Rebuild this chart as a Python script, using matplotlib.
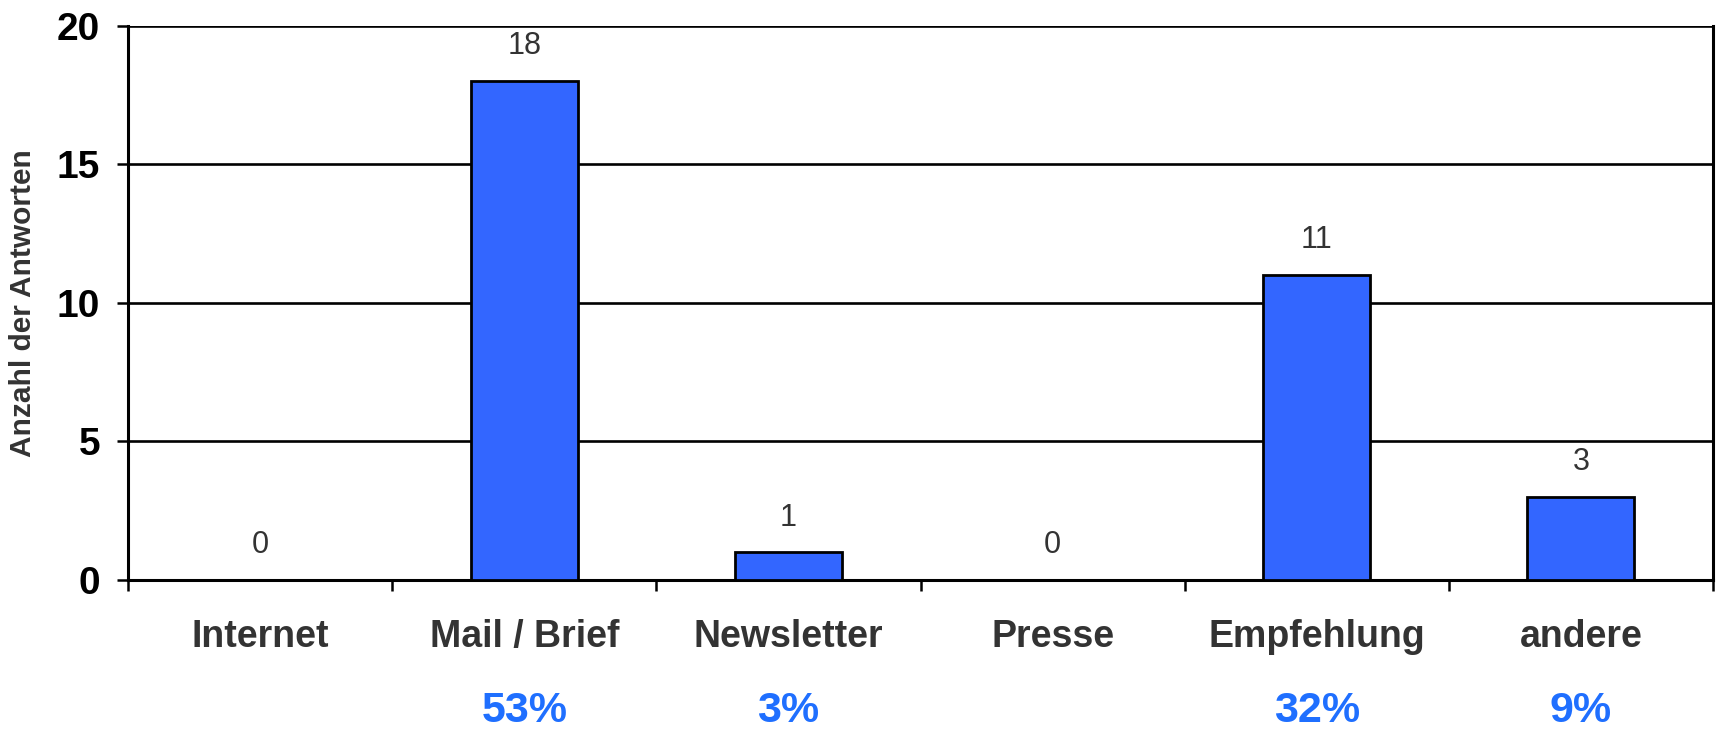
import matplotlib.pyplot as plt
import numpy as np

# Daten
kategorien = ["Internet", "Mail / Brief", "Newsletter", "Presse", "Empfehlung", "andere"]
antworten = [0, 18, 1, 0, 11, 3]
prozent = ["", "53%", "3%", "", "32%", "9%"]
y_ticks = [0, 5, 10, 15, 20]

plt.rcParams["font.family"] = ["Liberation Sans", "DejaVu Sans"]

fig = plt.figure(figsize=(17.17, 7.29), dpi=100)
ax = fig.add_axes([128 / 1717, 1 - 580 / 729, (1713 - 128) / 1717, (580 - 25.5) / 729])

x = np.arange(len(kategorien))
ax.bar(x, antworten, width=0.405, color="#3366FF", edgecolor="black",
       linewidth=2, zorder=3)

# Werte über den Balken
for i, v in enumerate(antworten):
    ax.annotate(str(v), xy=(i, v), xytext=(0, 25), textcoords="offset points",
                ha="center", va="center", fontsize=22, color="#333333")

# Prozentwerte unter den Kategorien
for i, p in enumerate(prozent):
    if p:
        ax.annotate(p, xy=(i, 0), xycoords=("data", "axes fraction"),
                    xytext=(0, -94), textcoords="offset points",
                    ha="center", va="center", fontsize=31, fontweight="bold",
                    color="#1F6FFF")

ax.set_xlim(-0.5, len(kategorien) - 0.5)
ax.set_ylim(0, 20)

# y-Achse
ax.set_yticks(y_ticks)
ax.set_yticklabels([str(t) for t in y_ticks], fontsize=28, fontweight="bold")
ax.tick_params(axis="y", length=8, width=1.8, pad=12, direction="out")
ax.yaxis.grid(True, color="black", linewidth=1.9, zorder=0)
ax.set_axisbelow(True)

# x-Achse: Beschriftung in der Mitte, Striche an den Grenzen
ax.set_xticks(x)
ax.set_xticklabels(kategorien, fontsize=27, fontweight="bold", color="#333333")
ax.tick_params(axis="x", which="major", length=0, pad=28)
ax.set_xticks(np.arange(-0.5, len(kategorien)), minor=True)
ax.tick_params(axis="x", which="minor", length=8, width=1.8, direction="out")

ax.set_ylabel("Anzahl der Antworten", fontsize=21.5, fontweight="bold",
              color="#333333", labelpad=14)

for s in ["left", "bottom", "right"]:
    ax.spines[s].set_linewidth(2.2)
ax.spines["top"].set_visible(False)

fig.savefig("out.png", dpi=100)
